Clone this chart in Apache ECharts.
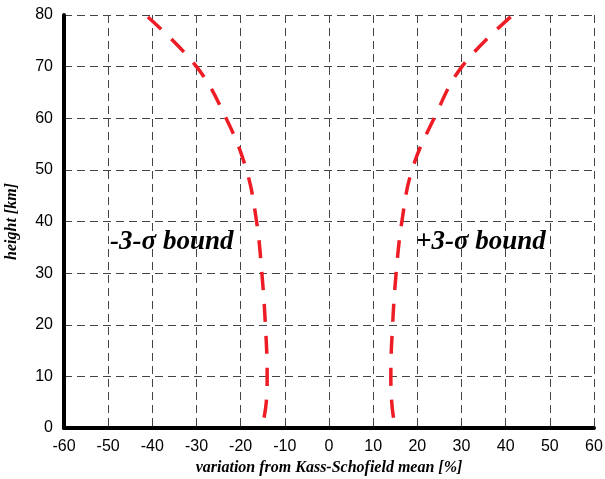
<!DOCTYPE html>
<html><head><meta charset="utf-8">
<script src="https://cdn.jsdelivr.net/npm/echarts@6/dist/echarts.min.js"></script>
<style>html,body{margin:0;padding:0;background:#fff}#c{width:605px;height:479px}</style>
</head><body><div id="c"></div>
<script>
const heights = [2, 5, 10, 20, 30, 40, 50, 60, 70, 80];
const lowerBound = [-14.7, -14.2, -14.0, -14.4, -15.2, -16.4, -18.7, -23.3, -30.0, -41.5];
const upperBound = [14.6, 14.2, 14.0, 14.4, 15.2, 16.5, 18.8, 23.8, 30.1, 41.6];
const xTicks = {min: -60, max: 60, interval: 10};
const yTicks = {min: 0, max: 80, interval: 10};
const annotations = [
  {x: -35.6, y: 36.0, text: '-3-σ bound'},
  {x: 34.4, y: 36.0, text: '+3-σ bound'}
];

const serif = '"Liberation Serif", "DejaVu Serif", serif';
const sans = '"Liberation Sans", Arial, sans-serif';
const pairs = (xs) => xs.map((v, i) => [v, heights[i]]);
const curveStyle = {color: '#ee1c25', width: 3.5, type: [18, 14], cap: 'butt'};
const annLabel = {show: true, position: 'inside', fontFamily: serif, fontStyle: 'italic', fontWeight: 'bold', fontSize: 27, color: '#000', opacity: 1, textBorderWidth: 0};

const chart = echarts.init(document.getElementById('c'), null, {renderer: 'canvas'});
chart.setOption({
  animation: false,
  grid: {left: 64, right: 11, top: 15, bottom: 51, containLabel: false, outerBoundsMode: 'none'},
  xAxis: {
    type: 'value', min: xTicks.min, max: xTicks.max, interval: xTicks.interval,
    name: 'variation from Kass-Schofield mean [%]', nameLocation: 'middle', nameGap: 32,
    nameTextStyle: {fontFamily: serif, fontStyle: 'italic', fontWeight: 'bold', fontSize: 16, color: '#000'},
    axisLine: {show: true, onZero: false, lineStyle: {color: '#000', width: 4}},
    axisTick: {show: false},
    axisLabel: {fontFamily: sans, fontSize: 16, color: '#000', margin: 11},
    splitLine: {show: true, lineStyle: {color: '#444', width: 1, type: [8, 5]}}
  },
  yAxis: {
    type: 'value', min: yTicks.min, max: yTicks.max, interval: yTicks.interval,
    name: 'height [km]', nameLocation: 'middle', nameGap: 44,
    nameTextStyle: {fontFamily: serif, fontStyle: 'italic', fontWeight: 'bold', fontSize: 16, color: '#000'},
    axisLine: {show: true, onZero: false, lineStyle: {color: '#000', width: 4}},
    axisTick: {show: false},
    axisLabel: {fontFamily: sans, fontSize: 16, color: '#000', margin: 11},
    splitLine: {show: true, lineStyle: {color: '#444', width: 1, type: [8, 5]}}
  },
  series: [
    {type: 'line', data: pairs(lowerBound), smooth: 0.4, showSymbol: false, lineStyle: curveStyle},
    {type: 'line', data: pairs(upperBound), smooth: 0.4, showSymbol: false, lineStyle: curveStyle},
    {type: 'scatter', symbolSize: 0, silent: true, itemStyle: {opacity: 1, color: 'rgba(0,0,0,0)'},
     data: annotations.map(a => ({value: [a.x, a.y], label: Object.assign({}, annLabel, {formatter: a.text})})),
     label: annLabel}
  ]
});
</script></body></html>
